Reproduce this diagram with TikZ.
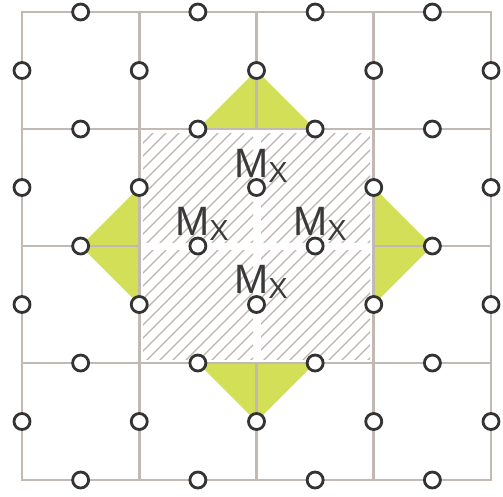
\documentclass[tikz,border=0pt]{standalone}
\usepackage{fontspec}
\setmainfont{Liberation Sans}
\definecolor{gridc}{HTML}{C2B9B4}
\definecolor{hatchc}{HTML}{BDB3AF}
\definecolor{greenc}{HTML}{D4DF58}
\definecolor{darkc}{HTML}{333333}
\definecolor{textc}{HTML}{3A3A3A}
\tikzset{
  gridline/.style={draw=gridc,line width=2.9pt},
  hatchline/.style={draw=hatchc,line width=1.1pt},
  dot/.style={circle,draw=darkc,fill=white,line width=2.8pt,minimum size=16pt,inner sep=0pt},
  lbl/.style={anchor=base west,inner sep=0pt,text=textc}
}
\newcommand{\mxlabel}{{\fontsize{41}{41}\selectfont M}\raisebox{-5pt}{\fontsize{29}{29}\selectfont X}}
\begin{document}
\begin{tikzpicture}[x=1pt,y=-1pt]
\useasboundingbox (0,0) rectangle (503,496);
% hatched quadrants
\foreach \xa/\xb/\ya/\yb in {143/253/133/242, 261/370/133/242, 143/253/250/359, 261/370/250/359}{
  \begin{scope}
    \clip (\xa,\ya) rectangle (\xb,\yb);
    \foreach \c in {260,273,...,760}{
      \draw[hatchline] (\c-400,400) -- (\c,0);
    }
  \end{scope}
}
% circle positions
\foreach \i in {0,1,2,3}{
  \foreach \j in {0,1,2,3,4}{
    \coordinate (h-\i-\j) at ({22+117.25*(\i+0.5)},{12+117*\j});
  }
}
\foreach \i in {0,1,2,3,4}{
  \foreach \j in {0,1,2,3}{
    \coordinate (v-\i-\j) at ({22+117.25*\i},{12+117*(\j+0.5)});
  }
}
% green triangles
\fill[greenc] (h-1-1) -- (v-2-0) -- (h-2-1) -- cycle;
\fill[greenc] (v-3-1) -- (h-3-2) -- (v-3-2) -- cycle;
\fill[greenc] (h-1-3) -- (v-2-3) -- (h-2-3) -- cycle;
\fill[greenc] (v-1-1) -- (h-0-2) -- (v-1-2) -- cycle;
% grid lines
\foreach \y in {12,129,363,480}{
  \draw[gridline,line cap=rect] (22,\y) -- (491,\y);
}
\draw[gridline] (22,246) -- (139.25,246);
\draw[gridline] (373.75,246) -- (491,246);
\foreach \x in {22,139.25,373.75,491}{
  \draw[gridline,line cap=rect] (\x,12) -- (\x,480);
}
\draw[gridline] (256.5,12) -- (256.5,129);
\draw[gridline] (256.5,363) -- (256.5,480);
% circles
\foreach \i in {0,1,2,3}{
  \foreach \j in {0,1,2,3,4}{
    \node[dot] (ch-\i-\j) at (h-\i-\j) {};
  }
}
\foreach \i in {0,1,2,3,4}{
  \foreach \j in {0,1,2,3}{
    \node[dot] (cv-\i-\j) at (v-\i-\j) {};
  }
}
% labels
\node[lbl] (mt) at (234,177) {\mxlabel};
\node[lbl] (ml) at (175,235) {\mxlabel};
\node[lbl] (mr) at (293,235) {\mxlabel};
\node[lbl] (mb) at (234,293) {\mxlabel};
\end{tikzpicture}
\end{document}
